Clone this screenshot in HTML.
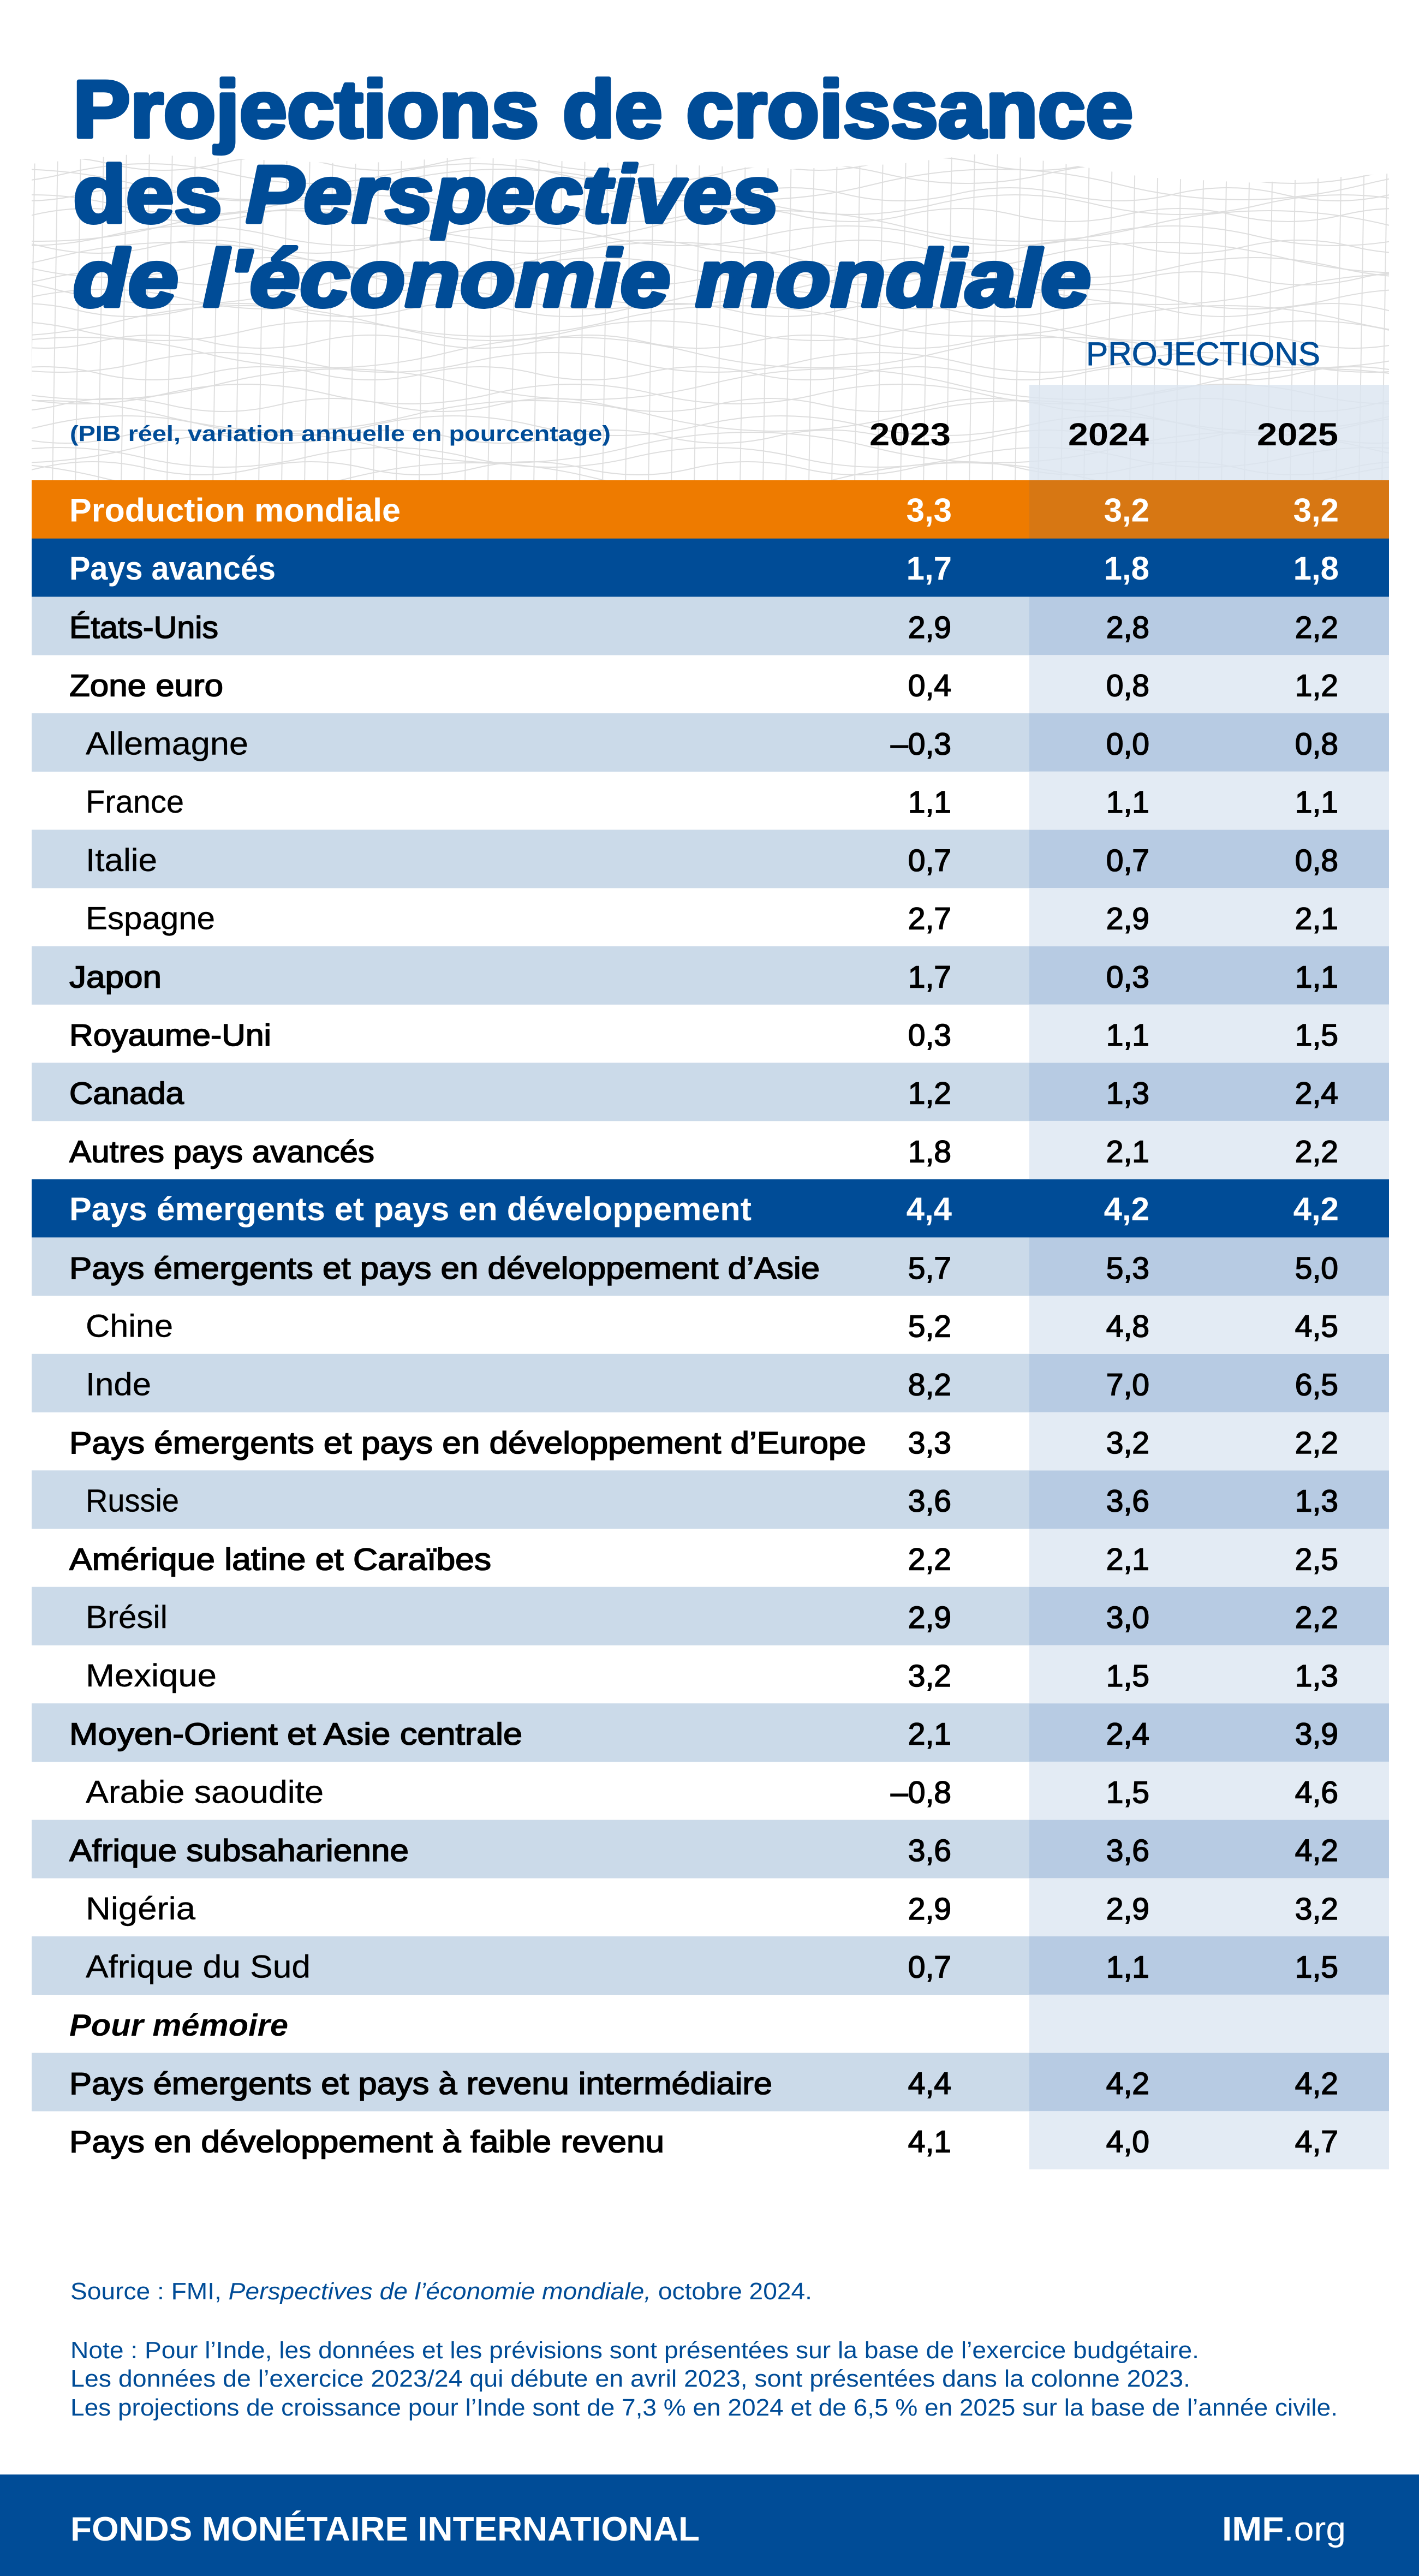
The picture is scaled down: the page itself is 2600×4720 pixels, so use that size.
<!DOCTYPE html>
<html lang="fr">
<head>
<meta charset="utf-8">
<style>
  html,body{margin:0;padding:0;background:#fff;}
  body{width:2600px;height:4720px;overflow:hidden;}
  svg{display:block;}
  text{font-family:"Liberation Sans", Arial, sans-serif;}
  .d{font-size:57px;fill:#000;stroke:#000;stroke-width:1.6px;}
  .r{font-size:58px;fill:#000;stroke:#000;stroke-width:0.4px;}
  .h{font-size:60px;font-weight:bold;fill:#fff;}
  .n{font-size:57px;fill:#000;stroke:#000;stroke-width:1.6px;text-anchor:end;}
  .hn{font-size:60px;font-weight:bold;fill:#fff;text-anchor:end;}
  .ft{font-size:44px;fill:#004C97;}
</style>
</head>
<body>
<svg width="2600" height="4720" viewBox="0 0 2600 4720" xmlns="http://www.w3.org/2000/svg">
  <defs>
    <clipPath id="meshclip">
      <polygon points="58,300 250,282 450,292 650,300 850,288 1050,296 1250,302 1450,310 1650,300 1810,280 1950,300 2100,325 2300,335 2545,318 2545,880 58,880"/>
    </clipPath>
    <path id="wa" d="M-400 0Q-300 -24 -200 0T0 0T200 0T400 0T600 0T800 0T1000 0T1200 0T1400 0T1600 0T1800 0T2000 0T2200 0T2400 0T2600 0T2800 0T3000 0"/>
    <path id="wb" d="M-600 0Q-450 -36 -300 0T0 0T300 0T600 0T900 0T1200 0T1500 0T1800 0T2100 0T2400 0T2700 0T3000 0"/>
    <path id="wc" d="M-900 0Q-675 -56 -450 0T0 0T450 0T900 0T1350 0T1800 0T2250 0T2700 0T3150 0"/>
    <pattern id="vl" x="0" y="270" width="42" height="620" patternUnits="userSpaceOnUse">
      <line x1="22" y1="0" x2="12" y2="620" stroke="#e0e0e0" stroke-width="2"/>
    </pattern>
  </defs>

  <!-- Mesh background -->
  <g clip-path="url(#meshclip)">
    <rect x="58" y="270" width="2487" height="610" fill="url(#vl)"/>
    <g fill="none" stroke="#dedede" stroke-width="2">
      <use href="#wa" transform="translate(0,300)"/>
      <use href="#wb" transform="translate(120,318)"/>
      <use href="#wc" transform="translate(-200,338)"/>
      <use href="#wa" transform="translate(150,356)"/>
      <use href="#wb" transform="translate(-90,375)"/>
      <use href="#wa" transform="translate(60,394)"/>
      <use href="#wc" transform="translate(300,414)"/>
      <use href="#wb" transform="translate(200,432)"/>
      <use href="#wa" transform="translate(-120,452)"/>
      <use href="#wc" transform="translate(100,472)"/>
      <use href="#wb" transform="translate(-250,490)"/>
      <use href="#wa" transform="translate(90,510)"/>
      <use href="#wc" transform="translate(-350,530)"/>
      <use href="#wb" transform="translate(40,548)"/>
      <use href="#wa" transform="translate(-60,568)"/>
      <use href="#wc" transform="translate(220,588)"/>
      <use href="#wb" transform="translate(-150,606)"/>
      <use href="#wa" transform="translate(180,626)"/>
      <use href="#wc" transform="translate(-80,646)"/>
      <use href="#wb" transform="translate(260,664)"/>
      <use href="#wa" transform="translate(-20,684)"/>
      <use href="#wc" transform="translate(400,704)"/>
      <use href="#wb" transform="translate(-300,722)"/>
      <use href="#wa" transform="translate(110,742)"/>
      <use href="#wc" transform="translate(-150,762)"/>
      <use href="#wb" transform="translate(80,780)"/>
      <use href="#wa" transform="translate(-180,800)"/>
      <use href="#wc" transform="translate(250,820)"/>
      <use href="#wb" transform="translate(-40,838)"/>
      <use href="#wa" transform="translate(70,858)"/>
      <use href="#wc" transform="translate(-260,876)"/>
    </g>
  </g>

  <!-- Projection header shading -->
  <rect x="1886" y="705" width="659" height="175" fill="#dbe5f0" opacity="0.8"/>

  <!-- Title -->
  <g font-weight="bold" fill="#004C97" stroke="#004C97" stroke-width="7" stroke-linejoin="round" font-size="148">
    <text x="134" y="251" textLength="1942" lengthAdjust="spacingAndGlyphs">Projections de croissance</text>
    <text x="134" y="407" textLength="1294" lengthAdjust="spacingAndGlyphs">des <tspan font-style="italic">Perspectives</tspan></text>
    <text x="134" y="561" font-style="italic" textLength="1865" lengthAdjust="spacingAndGlyphs">de l'économie mondiale</text>
  </g>

  <text x="1990" y="669" font-size="60" fill="#004C97" stroke="#004C97" stroke-width="0.8" textLength="429" lengthAdjust="spacingAndGlyphs">PROJECTIONS</text>

  <text x="128" y="808" font-size="40" font-weight="bold" fill="#004C97" textLength="991" lengthAdjust="spacingAndGlyphs">(PIB réel, variation annuelle en pourcentage)</text>

  <g font-size="58" font-weight="bold" fill="#000">
    <text x="1593" y="816" textLength="149" lengthAdjust="spacingAndGlyphs">2023</text>
    <text x="1957" y="816" textLength="148" lengthAdjust="spacingAndGlyphs">2024</text>
    <text x="2303" y="816" textLength="149" lengthAdjust="spacingAndGlyphs">2025</text>
  </g>

  <!-- Row backgrounds -->
  <rect x="58" y="880" width="1828" height="107" fill="#EE7B00"/>
  <rect x="1886" y="880" width="659" height="107" fill="#D77713"/>
  <rect x="58" y="986.72" width="2487" height="107" fill="#004C97"/>
  <rect x="58" y="2160.64" width="2487" height="107" fill="#004C97"/>

  <g>
    <g fill="#CBDAE9">
      <rect x="58" y="1093.44" width="1828" height="107"/>
      <rect x="58" y="1306.88" width="1828" height="107"/>
      <rect x="58" y="1520.32" width="1828" height="107"/>
      <rect x="58" y="1733.76" width="1828" height="107"/>
      <rect x="58" y="1947.2" width="1828" height="107"/>
      <rect x="58" y="2267.36" width="1828" height="107"/>
      <rect x="58" y="2480.8" width="1828" height="107"/>
      <rect x="58" y="2694.24" width="1828" height="107"/>
      <rect x="58" y="2907.68" width="1828" height="107"/>
      <rect x="58" y="3121.12" width="1828" height="107"/>
      <rect x="58" y="3334.56" width="1828" height="107"/>
      <rect x="58" y="3548" width="1828" height="107"/>
      <rect x="58" y="3761.44" width="1828" height="107"/>
    </g>
    <g fill="#B7CBE3">
      <rect x="1886" y="1093.44" width="659" height="107"/>
      <rect x="1886" y="1306.88" width="659" height="107"/>
      <rect x="1886" y="1520.32" width="659" height="107"/>
      <rect x="1886" y="1733.76" width="659" height="107"/>
      <rect x="1886" y="1947.2" width="659" height="107"/>
      <rect x="1886" y="2267.36" width="659" height="107"/>
      <rect x="1886" y="2480.8" width="659" height="107"/>
      <rect x="1886" y="2694.24" width="659" height="107"/>
      <rect x="1886" y="2907.68" width="659" height="107"/>
      <rect x="1886" y="3121.12" width="659" height="107"/>
      <rect x="1886" y="3334.56" width="659" height="107"/>
      <rect x="1886" y="3548" width="659" height="107"/>
      <rect x="1886" y="3761.44" width="659" height="107"/>
    </g>
    <g fill="#E3EBF4">
      <rect x="1886" y="1200.16" width="659" height="106.72"/>
      <rect x="1886" y="1413.6" width="659" height="106.72"/>
      <rect x="1886" y="1627.04" width="659" height="106.72"/>
      <rect x="1886" y="1840.48" width="659" height="106.72"/>
      <rect x="1886" y="2053.92" width="659" height="106.72"/>
      <rect x="1886" y="2374.08" width="659" height="106.72"/>
      <rect x="1886" y="2587.52" width="659" height="106.72"/>
      <rect x="1886" y="2800.96" width="659" height="106.72"/>
      <rect x="1886" y="3014.4" width="659" height="106.72"/>
      <rect x="1886" y="3227.84" width="659" height="106.72"/>
      <rect x="1886" y="3441.28" width="659" height="106.72"/>
      <rect x="1886" y="3654.72" width="659" height="106.72"/>
      <rect x="1886" y="3868.16" width="659" height="106.72"/>
    </g>
  </g>

  <!-- Labels -->
  <text class="h" x="127" y="955.5" textLength="607" lengthAdjust="spacingAndGlyphs">Production mondiale</text>
  <text class="h" x="127" y="1062.2" textLength="378" lengthAdjust="spacingAndGlyphs">Pays avancés</text>
  <text class="d" x="127" y="1168.9" textLength="273" lengthAdjust="spacingAndGlyphs">États-Unis</text>
  <text class="d" x="127" y="1275.7" textLength="282" lengthAdjust="spacingAndGlyphs">Zone euro</text>
  <text class="r" x="157" y="1382.4" textLength="298" lengthAdjust="spacingAndGlyphs">Allemagne</text>
  <text class="r" x="157" y="1489.1" textLength="180" lengthAdjust="spacingAndGlyphs">France</text>
  <text class="r" x="157" y="1595.8" textLength="131" lengthAdjust="spacingAndGlyphs">Italie</text>
  <text class="r" x="157" y="1702.5" textLength="237" lengthAdjust="spacingAndGlyphs">Espagne</text>
  <text class="d" x="127" y="1809.3" textLength="169" lengthAdjust="spacingAndGlyphs">Japon</text>
  <text class="d" x="127" y="1916" textLength="370" lengthAdjust="spacingAndGlyphs">Royaume-Uni</text>
  <text class="d" x="127" y="2022.7" textLength="210" lengthAdjust="spacingAndGlyphs">Canada</text>
  <text class="d" x="127" y="2129.4" textLength="559" lengthAdjust="spacingAndGlyphs">Autres pays avancés</text>
  <text class="h" x="127" y="2236.1" textLength="1250" lengthAdjust="spacingAndGlyphs">Pays émergents et pays en développement</text>
  <text class="d" x="127" y="2342.9" textLength="1375" lengthAdjust="spacingAndGlyphs">Pays émergents et pays en développement d’Asie</text>
  <text class="r" x="157" y="2449.6" textLength="160" lengthAdjust="spacingAndGlyphs">Chine</text>
  <text class="r" x="157" y="2556.3" textLength="120" lengthAdjust="spacingAndGlyphs">Inde</text>
  <text class="d" x="127" y="2663" textLength="1460" lengthAdjust="spacingAndGlyphs">Pays émergents et pays en développement d’Europe</text>
  <text class="r" x="157" y="2769.7" textLength="171" lengthAdjust="spacingAndGlyphs">Russie</text>
  <text class="d" x="127" y="2876.5" textLength="773" lengthAdjust="spacingAndGlyphs">Amérique latine et Caraïbes</text>
  <text class="r" x="157" y="2983.2" textLength="150" lengthAdjust="spacingAndGlyphs">Brésil</text>
  <text class="r" x="157" y="3089.9" textLength="240" lengthAdjust="spacingAndGlyphs">Mexique</text>
  <text class="d" x="127" y="3196.6" textLength="830" lengthAdjust="spacingAndGlyphs">Moyen-Orient et Asie centrale</text>
  <text class="r" x="157" y="3303.3" textLength="436" lengthAdjust="spacingAndGlyphs">Arabie saoudite</text>
  <text class="d" x="127" y="3410.1" textLength="622" lengthAdjust="spacingAndGlyphs">Afrique subsaharienne</text>
  <text class="r" x="157" y="3516.8" textLength="201" lengthAdjust="spacingAndGlyphs">Nigéria</text>
  <text class="r" x="157" y="3623.5" textLength="412" lengthAdjust="spacingAndGlyphs">Afrique du Sud</text>
  <text x="127" y="3730.2" font-size="57" font-weight="bold" font-style="italic" fill="#000" textLength="401" lengthAdjust="spacingAndGlyphs">Pour mémoire</text>
  <text class="d" x="127" y="3836.9" textLength="1288" lengthAdjust="spacingAndGlyphs">Pays émergents et pays à revenu intermédiaire</text>
  <text class="d" x="127" y="3943.7" textLength="1090" lengthAdjust="spacingAndGlyphs">Pays en développement à faible revenu</text>

  <!-- Numbers: header rows -->
  <text class="hn" x="1744" y="955.5">3,3</text><text class="hn" x="2106" y="955.5">3,2</text><text class="hn" x="2453" y="955.5">3,2</text>
  <text class="hn" x="1744" y="1062.2">1,7</text><text class="hn" x="2106" y="1062.2">1,8</text><text class="hn" x="2453" y="1062.2">1,8</text>
  <text class="hn" x="1744" y="2236.1">4,4</text><text class="hn" x="2106" y="2236.1">4,2</text><text class="hn" x="2453" y="2236.1">4,2</text>

  <!-- Numbers: regular rows -->
  <g>
    <text class="n" x="1743" y="1168.9">2,9</text><text class="n" x="2106" y="1168.9">2,8</text><text class="n" x="2452" y="1168.9">2,2</text>
    <text class="n" x="1743" y="1275.7">0,4</text><text class="n" x="2106" y="1275.7">0,8</text><text class="n" x="2452" y="1275.7">1,2</text>
    <text class="n" x="1743" y="1382.4">–0,3</text><text class="n" x="2106" y="1382.4">0,0</text><text class="n" x="2452" y="1382.4">0,8</text>
    <text class="n" x="1743" y="1489.1">1,1</text><text class="n" x="2106" y="1489.1">1,1</text><text class="n" x="2452" y="1489.1">1,1</text>
    <text class="n" x="1743" y="1595.8">0,7</text><text class="n" x="2106" y="1595.8">0,7</text><text class="n" x="2452" y="1595.8">0,8</text>
    <text class="n" x="1743" y="1702.5">2,7</text><text class="n" x="2106" y="1702.5">2,9</text><text class="n" x="2452" y="1702.5">2,1</text>
    <text class="n" x="1743" y="1809.3">1,7</text><text class="n" x="2106" y="1809.3">0,3</text><text class="n" x="2452" y="1809.3">1,1</text>
    <text class="n" x="1743" y="1916">0,3</text><text class="n" x="2106" y="1916">1,1</text><text class="n" x="2452" y="1916">1,5</text>
    <text class="n" x="1743" y="2022.7">1,2</text><text class="n" x="2106" y="2022.7">1,3</text><text class="n" x="2452" y="2022.7">2,4</text>
    <text class="n" x="1743" y="2129.4">1,8</text><text class="n" x="2106" y="2129.4">2,1</text><text class="n" x="2452" y="2129.4">2,2</text>
    <text class="n" x="1743" y="2342.9">5,7</text><text class="n" x="2106" y="2342.9">5,3</text><text class="n" x="2452" y="2342.9">5,0</text>
    <text class="n" x="1743" y="2449.6">5,2</text><text class="n" x="2106" y="2449.6">4,8</text><text class="n" x="2452" y="2449.6">4,5</text>
    <text class="n" x="1743" y="2556.3">8,2</text><text class="n" x="2106" y="2556.3">7,0</text><text class="n" x="2452" y="2556.3">6,5</text>
    <text class="n" x="1743" y="2663">3,3</text><text class="n" x="2106" y="2663">3,2</text><text class="n" x="2452" y="2663">2,2</text>
    <text class="n" x="1743" y="2769.7">3,6</text><text class="n" x="2106" y="2769.7">3,6</text><text class="n" x="2452" y="2769.7">1,3</text>
    <text class="n" x="1743" y="2876.5">2,2</text><text class="n" x="2106" y="2876.5">2,1</text><text class="n" x="2452" y="2876.5">2,5</text>
    <text class="n" x="1743" y="2983.2">2,9</text><text class="n" x="2106" y="2983.2">3,0</text><text class="n" x="2452" y="2983.2">2,2</text>
    <text class="n" x="1743" y="3089.9">3,2</text><text class="n" x="2106" y="3089.9">1,5</text><text class="n" x="2452" y="3089.9">1,3</text>
    <text class="n" x="1743" y="3196.6">2,1</text><text class="n" x="2106" y="3196.6">2,4</text><text class="n" x="2452" y="3196.6">3,9</text>
    <text class="n" x="1743" y="3303.3">–0,8</text><text class="n" x="2106" y="3303.3">1,5</text><text class="n" x="2452" y="3303.3">4,6</text>
    <text class="n" x="1743" y="3410.1">3,6</text><text class="n" x="2106" y="3410.1">3,6</text><text class="n" x="2452" y="3410.1">4,2</text>
    <text class="n" x="1743" y="3516.8">2,9</text><text class="n" x="2106" y="3516.8">2,9</text><text class="n" x="2452" y="3516.8">3,2</text>
    <text class="n" x="1743" y="3623.5">0,7</text><text class="n" x="2106" y="3623.5">1,1</text><text class="n" x="2452" y="3623.5">1,5</text>
    <text class="n" x="1743" y="3836.9">4,4</text><text class="n" x="2106" y="3836.9">4,2</text><text class="n" x="2452" y="3836.9">4,2</text>
    <text class="n" x="1743" y="3943.7">4,1</text><text class="n" x="2106" y="3943.7">4,0</text><text class="n" x="2452" y="3943.7">4,7</text>
  </g>

  <!-- Source and notes -->
  <text class="ft" x="129" y="4213" textLength="1359" lengthAdjust="spacingAndGlyphs">Source : FMI, <tspan font-style="italic">Perspectives de l’économie mondiale,</tspan> octobre 2024.</text>
  <text class="ft" x="129" y="4321" textLength="2068" lengthAdjust="spacingAndGlyphs">Note : Pour l’Inde, les données et les prévisions sont présentées sur la base de l’exercice budgétaire.</text>
  <text class="ft" x="129" y="4373" textLength="2052" lengthAdjust="spacingAndGlyphs">Les données de l’exercice 2023/24 qui débute en avril 2023, sont présentées dans la colonne 2023.</text>
  <text class="ft" x="129" y="4426" textLength="2322" lengthAdjust="spacingAndGlyphs">Les projections de croissance pour l’Inde sont de 7,3 % en 2024 et de 6,5 % en 2025 sur la base de l’année civile.</text>

  <!-- Footer band -->
  <rect x="0" y="4534" width="2600" height="186" fill="#004C97"/>
  <text x="129" y="4655" font-size="62" font-weight="bold" fill="#fff" textLength="1153" lengthAdjust="spacingAndGlyphs">FONDS MONÉTAIRE INTERNATIONAL</text>
  <text x="2239" y="4655" font-size="62" fill="#fff" textLength="227" lengthAdjust="spacingAndGlyphs"><tspan font-weight="bold">IMF</tspan>.org</text>
</svg>
</body>
</html>
